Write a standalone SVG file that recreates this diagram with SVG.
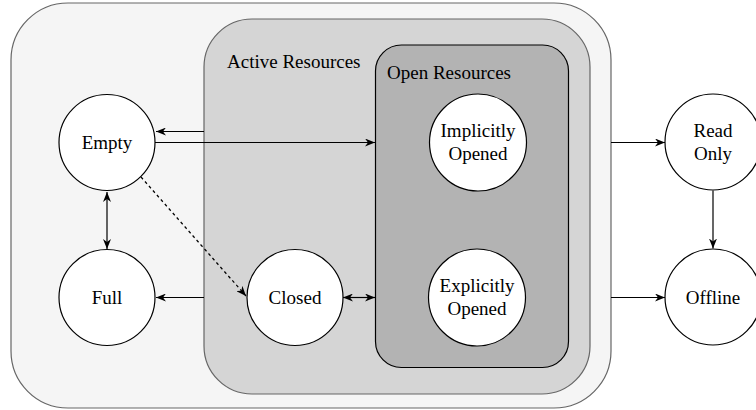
<svg xmlns="http://www.w3.org/2000/svg" width="756" height="410" viewBox="0 0 756 410">
<style>
.t{font-family:"Liberation Serif","Times New Roman",serif;font-size:19px;fill:#000;}
.c{text-anchor:middle;}
.n{fill:#fff;stroke:#000;stroke-width:1.2;}
.e{fill:none;stroke:#000;stroke-width:1.2;}
.d{stroke-dasharray:3 3;}
</style>
<defs>
<marker id="arr" viewBox="0 0 10 8" refX="10" refY="4" markerWidth="10" markerHeight="8" markerUnits="userSpaceOnUse" orient="auto-start-reverse">
<path d="M0,0 L10,4 L0,8 L3,4 Z" fill="#000"/>
</marker>
</defs>
<g id="outer">
<rect x="11" y="3" width="600" height="405" rx="57" ry="57" fill="#f5f5f5" stroke="#666" stroke-width="1.2"/>
</g>
<g id="active">
<rect x="204" y="19" width="386" height="375" rx="48" ry="48" fill="#d5d5d5" stroke="#666" stroke-width="1.2"/>
<text class="t" x="227" y="68">Active Resources</text>
</g>
<g id="open">
<rect x="375.5" y="45" width="193" height="322.5" rx="26" ry="26" fill="#b3b3b3" stroke="#000" stroke-width="1.2"/>
<text class="t" x="387" y="79">Open Resources</text>
</g>
<g id="connectors">
<line class="e" x1="204" y1="131.5" x2="156" y2="131.5" marker-end="url(#arr)"/>
<line class="e" x1="155" y1="142.5" x2="375" y2="142.5" marker-end="url(#arr)"/>
<line class="e" x1="107" y1="192" x2="107" y2="249" marker-start="url(#arr)" marker-end="url(#arr)"/>
<line class="e d" x1="141" y1="177" x2="246" y2="296" marker-end="url(#arr)"/>
<line class="e" x1="204" y1="297.5" x2="156" y2="297.5" marker-end="url(#arr)"/>
<line class="e" x1="343" y1="297.5" x2="375" y2="297.5" marker-start="url(#arr)" marker-end="url(#arr)"/>
<line class="e" x1="611" y1="142.5" x2="665" y2="142.5" marker-end="url(#arr)"/>
<line class="e" x1="611" y1="297.5" x2="665" y2="297.5" marker-end="url(#arr)"/>
<line class="e" x1="713" y1="190.5" x2="713" y2="248.5" marker-end="url(#arr)"/>
</g>
<g id="empty">
<circle class="n" cx="107" cy="142.5" r="48"/>
<text class="t c" x="107" y="149">Empty</text>
</g>
<g id="full">
<circle class="n" cx="107" cy="297.5" r="48"/>
<text class="t c" x="107" y="304">Full</text>
</g>
<g id="closed">
<circle class="n" cx="295" cy="297.5" r="48"/>
<text class="t c" x="295" y="304">Closed</text>
</g>
<g id="implicitly">
<circle class="n" cx="478" cy="142.5" r="48.5"/>
<text class="t c" x="478" y="137">Implicitly</text>
<text class="t c" x="478" y="160">Opened</text>
</g>
<g id="explicitly">
<circle class="n" cx="477" cy="297.5" r="48.5"/>
<text class="t c" x="477" y="292">Explicitly</text>
<text class="t c" x="477" y="315">Opened</text>
</g>
<g id="readonly">
<circle class="n" cx="713" cy="142" r="48"/>
<text class="t c" x="713" y="137">Read</text>
<text class="t c" x="713" y="160">Only</text>
</g>
<g id="offline">
<circle class="n" cx="713" cy="297" r="48"/>
<text class="t c" x="713" y="304">Offline</text>
</g>
</svg>
